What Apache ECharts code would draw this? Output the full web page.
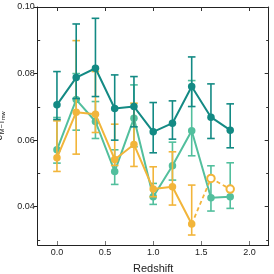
<!DOCTYPE html>
<html><head><meta charset="utf-8">
<script src="https://cdn.jsdelivr.net/npm/echarts@6/dist/echarts.min.js"></script>
<style>html,body{margin:0;padding:0;background:#fff}#c{width:274px;height:274px}</style>
</head><body><div id="c"></div>
<script>
var redshift = [0, 0.2, 0.4, 0.6, 0.8, 1.0, 1.2, 1.4, 1.6, 1.8];
var darkVal = [0.0706, 0.0788, 0.0816, 0.0695, 0.0701, 0.0625, 0.0651, 0.0761, 0.0669, 0.0630];
var darkLo  = [0.0662, 0.0725, 0.0731, 0.0600, 0.0640, 0.0562, 0.0603, 0.0701, 0.0605, 0.0577];
var darkHi  = [0.0806, 0.0949, 0.0966, 0.0796, 0.0791, 0.0713, 0.0718, 0.0850, 0.0769, 0.0709];
var lightVal = [0.0571, 0.0722, 0.0656, 0.0506, 0.0666, 0.0430, 0.0523, 0.0628, 0.0427, 0.0430];
var lightLo  = [0.0531, 0.0630, 0.0605, 0.0467, 0.0580, 0.0407, 0.0480, 0.0553, 0.0387, 0.0395];
var lightHi  = [0.0668, 0.0800, 0.0716, 0.0571, 0.0766, 0.0470, 0.0594, 0.0779, 0.0523, 0.0532];
var yellowVal = [0.0547, 0.0684, 0.0678, 0.0542, 0.0587, 0.0453, 0.0460, 0.0348, null, null];
var yellowLo  = [0.0506, 0.0558, 0.0623, 0.0524, 0.0521, 0.0430, 0.0405, 0.0315, null, null];
var yellowHi  = [0.0658, 0.0899, 0.0806, 0.0648, 0.0711, 0.0520, 0.0565, 0.0465, null, null];
var yellowOpen = [null, null, null, null, null, null, null, 0.0348, 0.0485, 0.0453];
var xTicks = [0, 0.5, 1.0, 1.5, 2.0];
var yTicks = [0.04, 0.06, 0.08, 0.10];
var yMinor = [0.03, 0.05, 0.07, 0.09];

var C_DARK = '#138a84', C_LIGHT = '#52bf9d', C_YEL = '#f2b53a';
var FONT = 'Liberation Sans';

function pts(vals){ var o=[]; for(var i=0;i<redshift.length;i++){ o.push([redshift[i], vals[i]]); } return o; }
function errData(lo, hi){ var o=[]; for(var i=0;i<redshift.length;i++){ if(lo[i]!=null) o.push([redshift[i], lo[i], hi[i]]); } return o; }
function errSeries(lo, hi, color, z){
  return {
    type:'custom', z:z, silent:true,
    data: errData(lo, hi),
    encode:{x:0, y:[1,2]},
    renderItem:function(params, api){
      var x = api.value(0);
      var pLo = api.coord([x, api.value(1)]);
      var pHi = api.coord([x, api.value(2)]);
      var hw = 3.8;
      var st = {stroke:color, lineWidth:1.6, fill:null};
      return {type:'group', children:[
        {type:'line', shape:{x1:pLo[0], y1:pLo[1], x2:pHi[0], y2:pHi[1]}, style:st},
        {type:'line', shape:{x1:pLo[0]-hw, y1:pLo[1], x2:pLo[0]+hw, y2:pLo[1]}, style:st},
        {type:'line', shape:{x1:pHi[0]-hw, y1:pHi[1], x2:pHi[0]+hw, y2:pHi[1]}, style:st}
      ]};
    }
  };
}
function lineSeries(vals, color, z){
  return {type:'line', z:z, data:pts(vals), symbol:'circle', symbolSize:7.5, connectNulls:false,
    lineStyle:{color:color, width:2}, itemStyle:{color:color}, emphasis:{disabled:true}};
}

var yCommon = {type:'value', min:0.0285, max:0.10, splitLine:{show:false}};
var chart = echarts.init(document.getElementById('c'), null, {renderer:'canvas'});
chart.setOption({
  animation:false,
  grid:{left:37.7, top:7, right:5.3, bottom:29, containLabel:false, outerBoundsMode:'none'},
  xAxis:[
    {type:'value', min:-0.2, max:2.2, position:'bottom',
     name:'Redshift', nameLocation:'middle', nameGap:18,
     nameTextStyle:{fontFamily:FONT, fontSize:11, color:'#222'},
     axisLine:{show:true, onZero:false, lineStyle:{color:'#222', width:1}},
     axisTick:{show:true, inside:true, length:4, customValues:xTicks, lineStyle:{color:'#777', width:1}},
     axisLabel:{customValues:xTicks, margin:3, fontFamily:FONT, fontSize:9, color:'#222',
       formatter:function(v){return v.toFixed(1);}},
     splitLine:{show:false}},
    {type:'value', min:-0.2, max:2.2, position:'top',
     axisLine:{show:true, onZero:false, lineStyle:{color:'#222', width:1}},
     axisTick:{show:true, inside:true, length:4, customValues:xTicks, lineStyle:{color:'#333', width:1}},
     axisLabel:{show:false}, splitLine:{show:false}}
  ],
  yAxis:[
    Object.assign({}, yCommon, {position:'left',
     name:'{s|σ}{a|M−T}{b|mw}', nameLocation:'middle', nameGap:27, nameRotate:90,
     nameTextStyle:{color:'#222', rich:{
       s:{fontFamily:FONT, fontSize:10, color:'#222'},
       a:{fontFamily:FONT, fontSize:7, color:'#222', padding:[5,0,0,0]},
       b:{fontFamily:FONT, fontSize:5.5, color:'#222', padding:[8,0,0,0]}}},
     axisLine:{show:true, onZero:false, lineStyle:{color:'#222', width:1}},
     axisTick:{show:true, inside:false, length:4, customValues:yTicks, lineStyle:{color:'#222', width:1}},
     axisLabel:{customValues:yTicks, margin:3, fontFamily:FONT, fontSize:9, color:'#222',
       formatter:function(v){return v.toFixed(2);}}}),
    Object.assign({}, yCommon, {position:'left',
     axisLine:{show:false, onZero:false}, axisLabel:{show:false},
     axisTick:{show:true, inside:true, length:2.5, customValues:yMinor, lineStyle:{color:'#333', width:1}}}),
    Object.assign({}, yCommon, {position:'right',
     axisLine:{show:true, onZero:false, lineStyle:{color:'#222', width:1}}, axisLabel:{show:false},
     axisTick:{show:true, inside:true, length:4, customValues:yTicks, lineStyle:{color:'#333', width:1}}}),
    Object.assign({}, yCommon, {position:'right',
     axisLine:{show:false, onZero:false}, axisLabel:{show:false},
     axisTick:{show:true, inside:true, length:2.5, customValues:yMinor, lineStyle:{color:'#333', width:1}}})
  ],
  series:[
    errSeries(lightLo, lightHi, C_LIGHT, 2),
    lineSeries(lightVal, C_LIGHT, 3),
    errSeries(yellowLo, yellowHi, C_YEL, 4),
    lineSeries(yellowVal, C_YEL, 5),
    {type:'line', z:4, data:pts(yellowOpen), connectNulls:false,
     symbol:function(v, p){ return p.dataIndex === 7 ? 'none' : 'emptyCircle'; }, symbolSize:7.5,
     lineStyle:{color:C_YEL, width:1.8, type:[4,3]}, itemStyle:{color:C_YEL, borderWidth:1.6}, emphasis:{disabled:true}},
    errSeries(darkLo, darkHi, C_DARK, 6),
    lineSeries(darkVal, C_DARK, 7)
  ]
});
</script>
</body></html>
